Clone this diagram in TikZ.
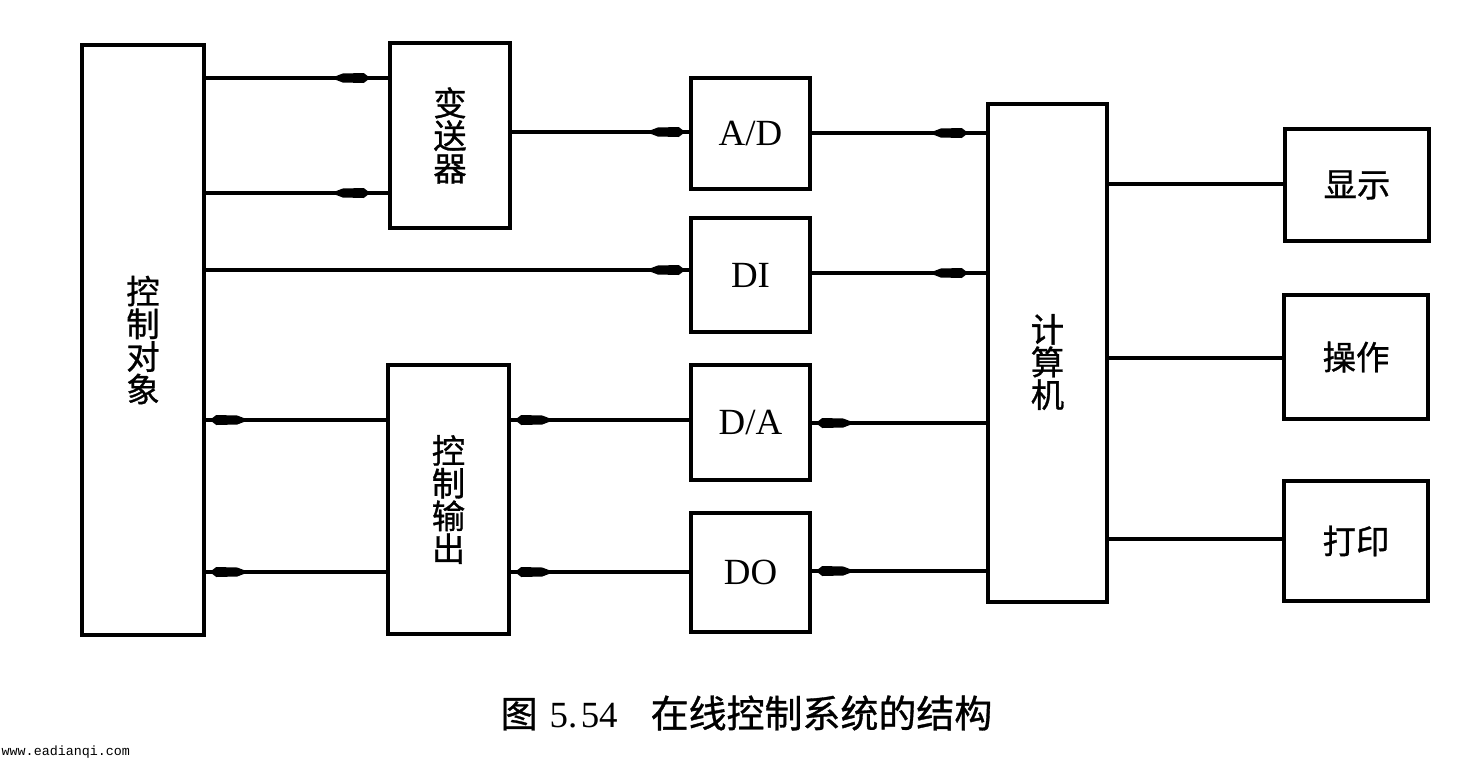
\documentclass[tikz,border=0pt]{standalone}
\usepackage{fontspec}
\setmainfont{Liberation Serif}
\newfontfamily\cjk[FakeBold=0.9]{Noto Sans CJK SC}
\newfontfamily\wmfont{Liberation Mono}
\usetikzlibrary{decorations.markings}
\newcommand\blunthead{\fill (0.45mm,0) -- (-0.2mm,0.5mm) -- (-2.3mm,0.45mm) -- (-3.0mm,0.18mm) -- (-3.0mm,-0.18mm) -- (-2.3mm,-0.45mm) -- (-0.2mm,-0.5mm) -- cycle;}
\begin{document}
\begin{tikzpicture}[x=0.1mm,y=-0.1mm,
  blk/.style={draw,line width=1.3pt,inner sep=0pt,align=center},
  cjktext/.style={font=\cjk\fontsize{9.5}{9.3}\selectfont},
  lattext/.style={font=\fontsize{10.5}{12}\selectfont},
  wire/.style={line width=0.9pt},
  arr/.style={wire,postaction={decorate},
    decoration={markings,mark=at position -0.8mm with {\blunthead}}},
  arroff/.style={wire,postaction={decorate},
    decoration={markings,mark=at position -2.2mm with {\blunthead}}}
]
\useasboundingbox (0,0) rectangle (1460,764);
\fill[white] (0,0) rectangle (1460,764);

% blocks
\node[blk,cjktext,minimum width=12.2mm,minimum height=59mm] (ctrl) at (143,340) {控\\制\\对\\象};
\node[blk,cjktext,minimum width=12mm,minimum height=18.5mm] (tx) at (450,135.5) {变\\送\\器};
\node[blk,lattext,minimum width=11.9mm,minimum height=11.1mm] (ad) at (750.5,133.5) {A/D};
\node[blk,lattext,minimum width=11.9mm,minimum height=11.4mm] (di) at (750.5,275) {DI};
\node[blk,lattext,minimum width=11.9mm,minimum height=11.5mm] (da) at (750.5,422.5) {D/A};
\node[blk,lattext,minimum width=11.9mm,minimum height=11.9mm] (dout) at (750.5,572.5) {DO};
\node[blk,cjktext,minimum width=12.1mm,minimum height=26.9mm] (out) at (448.5,499.5) {控\\制\\输\\出};
\node[blk,minimum width=11.9mm,minimum height=49.8mm] (comp) at (1047.5,353) {};
\node[cjktext,align=center] (comptext) at (1047.5,362) {计\\算\\机};
\node[blk,cjktext,minimum width=14.4mm,minimum height=11.2mm] (disp) at (1357,185) {显示};
\node[blk,cjktext,minimum width=14.4mm,minimum height=12.4mm] (op) at (1356,357) {操作};
\node[blk,cjktext,minimum width=14.4mm,minimum height=12mm] (prt) at (1356,541) {打印};

% connectors
\draw[arroff] (ctrl.east |- 0,78) -- (tx.west |- 0,78);
\draw[arroff] (ctrl.east |- 0,193) -- (tx.west |- 0,193);
\draw[arr] (tx.east |- 0,132) -- (ad.west |- 0,132);
\draw[arroff] (ad.east |- 0,133) -- (comp.west |- 0,133);
\draw[arr] (ctrl.east |- 0,270) -- (di.west |- 0,270);
\draw[arroff] (di.east |- 0,273) -- (comp.west |- 0,273);
\draw[arr] (comp.west |- 0,423) -- (da.east |- 0,423);
\draw[arr] (da.west |- 0,420) -- (out.east |- 0,420);
\draw[arr] (out.west |- 0,420) -- (ctrl.east |- 0,420);
\draw[arr] (comp.west |- 0,571) -- (dout.east |- 0,571);
\draw[arr] (dout.west |- 0,572) -- (out.east |- 0,572);
\draw[arr] (out.west |- 0,572) -- (ctrl.east |- 0,572);
\draw[wire] (comp.east |- 0,184) -- (disp.west |- 0,184);
\draw[wire] (comp.east |- 0,358) -- (op.west |- 0,358);
\draw[wire] (comp.east |- 0,539) -- (prt.west |- 0,539);

% caption
\node[font=\fontsize{10.5}{12}\selectfont,anchor=west,inner sep=0pt] (cap) at (500,713)
  {{\cjk 图}\hspace{1.2mm}5.\kern1pt54\hspace{3.3mm}{\cjk\fontsize{10.8}{12}\selectfont 在线控制系统的结构}};
\node[font=\wmfont\fontsize{3.8}{4}\selectfont,anchor=west,inner sep=0pt] (wm) at (1,752) {www.eadianqi.com};
\end{tikzpicture}
\end{document}
